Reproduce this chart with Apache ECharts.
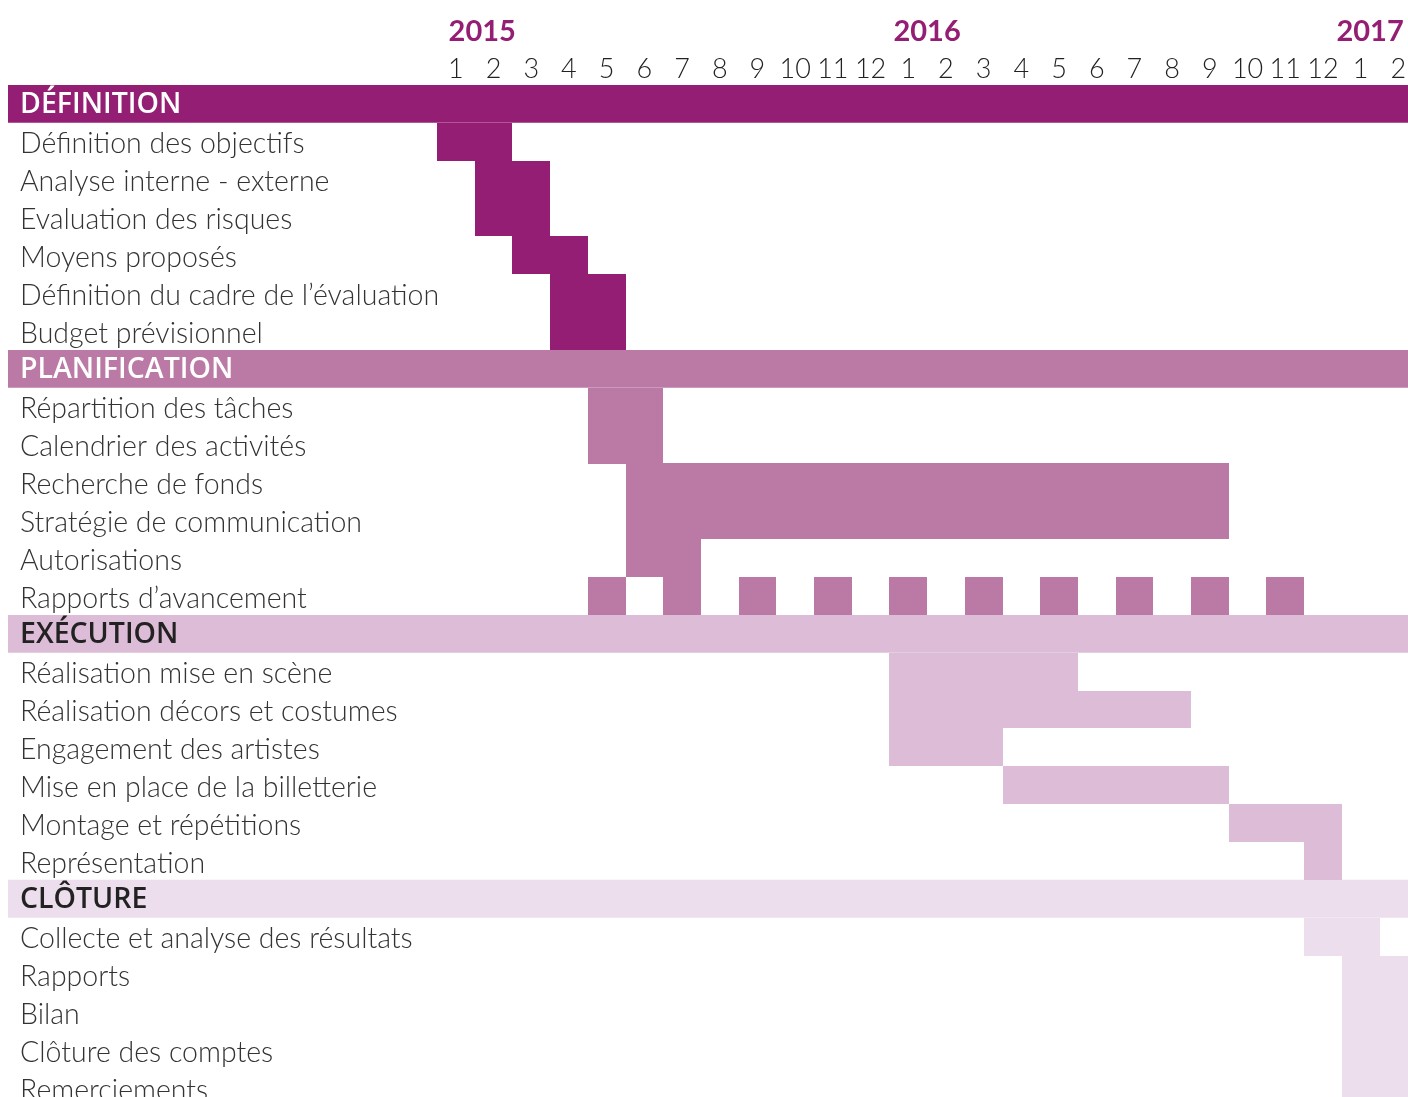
<!DOCTYPE html>
<html>
<head>
<meta charset="utf-8">
<script src="https://cdn.jsdelivr.net/npm/echarts@6/dist/echarts.min.js"></script>
<style>
html,body{margin:0;padding:0;background:#fff;}
#chart{width:1408px;height:1097px;}
</style>
</head>
<body>
<div id="chart"></div>
<script>
// ---- data ----
const monthLabels = ['1','2','3','4','5','6','7','8','9','10','11','12',
                     '1','2','3','4','5','6','7','8','9','10','11','12',
                     '1','2'];
const yearLabels = ['2015','2016','2017'];
const yearTickMonths = [1.2, 13, 24.75];

const rowLabels = [
  'DÉFINITION',
  'Définition des objectifs',
  'Analyse interne - externe',
  'Evaluation des risques',
  'Moyens proposés',
  'Définition du cadre de l\u2019évaluation',
  'Budget prévisionnel',
  'PLANIFICATION',
  'Répartition des tâches',
  'Calendrier des activités',
  'Recherche de fonds',
  'Stratégie de communication',
  'Autorisations',
  'Rapports d\u2019avancement',
  'EXÉCUTION',
  'Réalisation mise en scène',
  'Réalisation décors et costumes',
  'Engagement des artistes',
  'Mise en place de la billetterie',
  'Montage et répétitions',
  'Représentation',
  'CLÔTURE',
  'Collecte et analyse des résultats',
  'Rapports',
  'Bilan',
  'Clôture des comptes',
  'Remerciements'
];
const sectionNames = ['DÉFINITION','PLANIFICATION','EXÉCUTION','CLÔTURE'];
const sectionColors = ['#941e74','#bb79a6','#dcbcd6','#ecdeec'];

// task segments: [task name, start month index, end month index (exclusive)]
const taskSegments = [
  ['Définition des objectifs', 0, 2],
  ['Analyse interne - externe', 1, 3],
  ['Evaluation des risques', 1, 3],
  ['Moyens proposés', 2, 4],
  ['Définition du cadre de l\u2019évaluation', 3, 5],
  ['Budget prévisionnel', 3, 5],
  ['Répartition des tâches', 4, 6],
  ['Calendrier des activités', 4, 6],
  ['Recherche de fonds', 5, 21],
  ['Stratégie de communication', 5, 21],
  ['Autorisations', 5, 7],
  ['Rapports d\u2019avancement', 4, 5],
  ['Rapports d\u2019avancement', 6, 7],
  ['Rapports d\u2019avancement', 8, 9],
  ['Rapports d\u2019avancement', 10, 11],
  ['Rapports d\u2019avancement', 12, 13],
  ['Rapports d\u2019avancement', 14, 15],
  ['Rapports d\u2019avancement', 16, 17],
  ['Rapports d\u2019avancement', 18, 19],
  ['Rapports d\u2019avancement', 20, 21],
  ['Rapports d\u2019avancement', 22, 23],
  ['Réalisation mise en scène', 12, 17],
  ['Réalisation décors et costumes', 12, 20],
  ['Engagement des artistes', 12, 15],
  ['Mise en place de la billetterie', 15, 21],
  ['Montage et répétitions', 21, 24],
  ['Représentation', 23, 24],
  ['Collecte et analyse des résultats', 23, 25],
  ['Rapports', 24, 26],
  ['Bilan', 24, 26],
  ['Clôture des comptes', 24, 26],
  ['Remerciements', 24, 26]
];

// ---- derived ----
const rowSection = [];
let cur = -1;
rowLabels.forEach(function (r) {
  const si = sectionNames.indexOf(r);
  if (si >= 0) cur = si;
  rowSection.push(cur);
});
const segData = taskSegments.map(function (s) {
  const ri = rowLabels.indexOf(s[0]);
  return [ri, s[1], s[2], rowSection[ri]];
});
const headerData = rowLabels.map(function (r) {
  const si = sectionNames.indexOf(r);
  return si >= 0 ? { value: 1, itemStyle: { color: sectionColors[si] } } : '-';
});

const FONT = 'Lato';
const HFONT = 'Open Sans';
const ROW_H = 37.85;
const GRID_TOP = 85;
const GRID_H = ROW_H * rowLabels.length;
const COL_W = 37.7;
const GRID_LEFT = 437;

const chart = echarts.init(document.getElementById('chart'));
chart.setOption({
  animation: false,
  backgroundColor: '#ffffff',
  grid: [
    { left: GRID_LEFT, top: GRID_TOP, width: COL_W * monthLabels.length, height: GRID_H, outerBoundsMode: 'none', containLabel: false },
    { left: 8, top: GRID_TOP, width: 1400, height: GRID_H, outerBoundsMode: 'none', containLabel: false }
  ],
  xAxis: [
    { type: 'value', gridIndex: 0, min: 0, max: monthLabels.length, show: false },
    {
      type: 'category', gridIndex: 0, position: 'top', data: monthLabels,
      axisLine: { show: false }, axisTick: { show: false }, splitLine: { show: false },
      axisLabel: { interval: 0, margin: 2, fontFamily: FONT, fontWeight: 300, fontSize: 27, color: '#222' }
    },
    {
      type: 'value', gridIndex: 0, position: 'top', offset: 33, min: 0, max: monthLabels.length,
      axisLine: { show: false }, axisTick: { show: false }, splitLine: { show: false },
      axisLabel: {
        customValues: yearTickMonths, margin: 6, showMinLabel: true, showMaxLabel: true,
        fontFamily: FONT, fontWeight: 'bold', fontSize: 29, color: '#941e74',
        formatter: function (v) {
          const i = yearTickMonths.indexOf(v);
          return i >= 0 ? yearLabels[i] : '';
        }
      }
    },
    { type: 'value', gridIndex: 1, min: 0, max: 1, show: false }
  ],
  yAxis: [
    {
      type: 'category', gridIndex: 0, inverse: true, data: rowLabels, z: 10,
      axisLine: { show: false }, axisTick: { show: false }, splitLine: { show: false },
      axisLabel: {
        interval: 0, align: 'left', margin: GRID_LEFT - 20,
        formatter: function (v) {
          const si = sectionNames.indexOf(v);
          if (si >= 0) return '{' + (si < 2 ? 'hw' : 'hd') + '|' + v + '}';
          return '{t|' + v + '}';
        },
        rich: {
          t: { fontFamily: FONT, fontWeight: 300, fontSize: 28.5, color: '#333', padding: [5, 0, 0, 0] },
          hw: { fontFamily: HFONT, fontWeight: 600, fontSize: 28.5, color: '#ffffff', padding: [2, 0, 0, 0] },
          hd: { fontFamily: HFONT, fontWeight: 600, fontSize: 28.5, color: '#222222', padding: [2, 0, 0, 0] }
        }
      }
    },
    { type: 'category', gridIndex: 1, inverse: true, data: rowLabels, show: false }
  ],
  series: [
    {
      type: 'bar', xAxisIndex: 3, yAxisIndex: 1, data: headerData,
      barWidth: '100%', barGap: '0%', silent: true, z: 1
    },
    {
      type: 'custom', xAxisIndex: 0, yAxisIndex: 0, data: segData,
      encode: { x: [1, 2], y: 0 }, z: 2, clip: false,
      renderItem: function (params, api) {
        const row = api.value(0);
        const p0 = api.coord([api.value(1), row]);
        const p1 = api.coord([api.value(2), row]);
        const h = api.size([0, 1])[1];
        const x0 = Math.round(p0[0]), x1 = Math.round(p1[0]);
        const y0 = Math.round(p0[1] - h / 2), y1 = Math.round(p0[1] + h / 2);
        return {
          type: 'rect',
          shape: { x: x0, y: y0, width: x1 - x0, height: y1 - y0 },
          style: { fill: sectionColors[api.value(3)] }
        };
      }
    }
  ]
});
</script>
</body>
</html>
